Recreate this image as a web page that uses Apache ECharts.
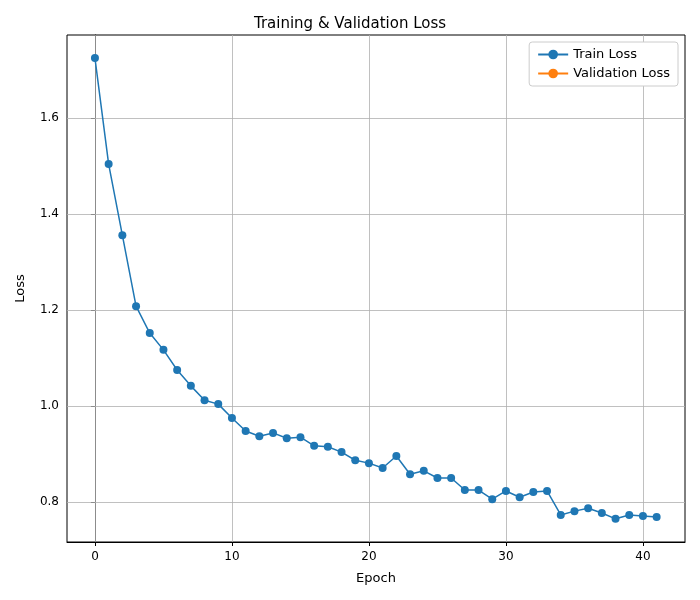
<!DOCTYPE html>
<html>
<head>
<meta charset="utf-8">
<script src="https://cdn.jsdelivr.net/npm/echarts@6/dist/echarts.min.js"></script>
<style>html,body{margin:0;background:#fff}#chart{width:700px;height:600px}</style>
</head>
<body>
<div id="chart"></div>
<script>
// values
const epochs = [0,1,2,3,4,5,6,7,8,9,10,11,12,13,14,15,16,17,18,19,20,21,22,23,24,25,26,27,28,29,30,31,32,33,34,35,36,37,38,39,40,41]
const trainLoss = [1.725,1.504,1.356,1.208,1.152,1.117,1.075,1.042,1.012,1.004,0.975,0.948,0.937,0.944,0.933,0.935,0.917,0.915,0.904,0.887,0.881,0.871,0.896,0.858,0.865,0.850,0.850,0.825,0.825,0.806,0.823,0.810,0.821,0.823,0.773,0.781,0.787,0.777,0.765,0.773,0.771,0.769]
const valLoss = []
const xTicks = [0,10,20,30,40]
const yTicks = [0.8,1.0,1.2,1.4,1.6]

let myChart = echarts.init(document.getElementById('chart'))
const font = 'DejaVu Sans'
const gridLines = [
    ...xTicks.map(v => ({ xAxis: v })),
    ...yTicks.map(v => ({ yAxis: v }))
]

myChart.setOption({
    animation: false,
    textStyle: { fontFamily: font },
    title: {
        text: 'Training & Validation Loss', left: 'center', top: 12,
        textStyle: { fontFamily: font, fontSize: 15, fontWeight: 'normal', color: '#000' }
    },
    legend: {
        orient: 'vertical', right: 22, top: 42, padding: [6, 8],
        borderColor: '#ccc', borderWidth: 1, borderRadius: 3, backgroundColor: '#fff',
        itemWidth: 30, itemHeight: 12, itemGap: 6,
        textStyle: { fontFamily: font, fontSize: 13, color: '#000' },
        data: ['Train Loss', 'Validation Loss']
    },
    grid: { left: 67, right: 15, top: 35, bottom: 58, show: true, borderColor: '#000', borderWidth: 1 },
    xAxis: {
        type: 'value', min: -2.04, max: 43.07,
        name: 'Epoch', nameLocation: 'middle', nameGap: 30,
        nameTextStyle: { fontFamily: font, fontSize: 13, color: '#000' },
        axisLine: { lineStyle: { color: '#000' } },
        axisTick: { show: true, customValues: xTicks, length: 4, inside: false, lineStyle: { color: '#000' } },
        axisLabel: { customValues: xTicks, color: '#000', fontSize: 12, fontFamily: font, margin: 9 },
        splitLine: { show: false }
    },
    yAxis: {
        type: 'value', min: 0.7167, max: 1.773,
        name: 'Loss', nameLocation: 'middle', nameGap: 40,
        nameTextStyle: { fontFamily: font, fontSize: 13, color: '#000' },
        axisLine: { show: true, lineStyle: { color: '#000' } },
        axisTick: { show: true, customValues: yTicks, length: 4, lineStyle: { color: '#000' } },
        axisLabel: { customValues: yTicks, color: '#000', fontSize: 12, fontFamily: font, formatter: v => v.toFixed(1) },
        splitLine: { show: false }
    },
    series: [
        {
            name: 'Train Loss', type: 'line',
            data: epochs.map((e, i) => [e, trainLoss[i]]),
            symbol: 'circle', symbolSize: 8,
            itemStyle: { color: '#1f77b4' }, lineStyle: { color: '#1f77b4', width: 1.5 },
            z: 3,
            markLine: {
                silent: true, symbol: 'none', label: { show: false },
                lineStyle: { color: '#b0b0b0', width: 0.8, type: 'solid' },
                data: gridLines, z: 1
            }
        },
        {
            name: 'Validation Loss', type: 'line', data: valLoss,
            symbol: 'circle', symbolSize: 8,
            itemStyle: { color: '#ff7f0e' }, lineStyle: { color: '#ff7f0e', width: 1.5 }
        }
    ]
})
</script>
</body>
</html>
